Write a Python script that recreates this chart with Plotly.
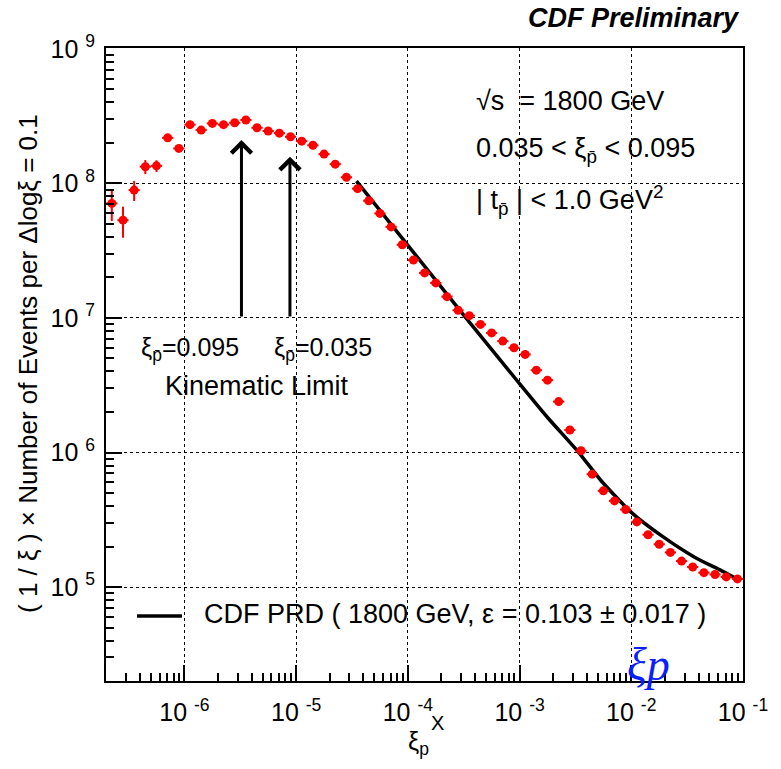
import numpy as np
import plotly.graph_objects as go

# ---------------- data ----------------
# bin centres in log10(xi) (bin width 0.1)
log_xi = [-6.65, -6.55, -6.45, -6.35, -6.25, -6.15, -6.05, -5.95, -5.85, -5.75,
          -5.65, -5.55, -5.45, -5.35, -5.25, -5.15, -5.05, -4.95, -4.85, -4.75,
          -4.65, -4.55, -4.45, -4.35, -4.25, -4.15, -4.05, -3.95, -3.85, -3.75,
          -3.65, -3.55, -3.45, -3.35, -3.25, -3.15, -3.05, -2.95, -2.85, -2.75,
          -2.65, -2.55, -2.45, -2.35, -2.25, -2.15, -2.05, -1.95, -1.85, -1.75,
          -1.65, -1.55, -1.45, -1.35, -1.25, -1.15, -1.05]
events = [7.10e7, 5.33e7, 8.91e7, 1.33e8, 1.35e8, 2.18e8, 1.82e8, 2.73e8, 2.49e8, 2.79e8,
          2.73e8, 2.82e8, 2.96e8, 2.59e8, 2.45e8, 2.36e8, 2.22e8, 2.06e8, 1.92e8, 1.65e8,
          1.39e8, 1.11e8, 9.14e7, 7.43e7, 5.98e7, 4.75e7, 3.50e7, 2.69e7, 2.16e7, 1.82e7,
          1.44e7, 1.14e7, 1.04e7, 8.95e6, 7.74e6, 6.73e6, 6.00e6, 5.36e6, 4.09e6, 3.45e6,
          2.39e6, 1.47e6, 1.03e6, 6.90e5, 5.19e5, 4.37e5, 3.77e5, 3.05e5, 2.45e5, 2.08e5,
          1.81e5, 1.56e5, 1.41e5, 1.28e5, 1.24e5, 1.19e5, 1.15e5]
rel_err = [0.26, 0.26, 0.17, 0.12, 0.10] + [0.03] * 52

# CDF PRD curve
prd_xi = [3.47e-5, 3.16e-4, 9.55e-4, 1.78e-3, 3.39e-3, 5.37e-3, 1.00e-2, 1.86e-2,
          3.72e-2, 6.46e-2, 9.12e-2]
prd_val = [1.04e8, 1.05e7, 3.40e6, 1.82e6, 1.00e6, 6.17e5, 3.59e5, 2.41e5,
           1.66e5, 1.32e5, 1.13e5]

# kinematic limit arrows
arrow_xi = [3.24e-6, 8.8e-6]
arrow_tip = [2.10e8, 1.58e8]
arrow_base = 1.0e7

x_ticks = [1e-6, 1e-5, 1e-4, 1e-3, 1e-2, 1e-1]
x_ticktext = ["10 <sup>-6</sup>", "10 <sup>-5</sup>", "10 <sup>-4</sup>",
              "10 <sup>-3</sup>", "10 <sup>-2</sup>", "10 <sup>-1</sup>"]
y_ticks = [1e5, 1e6, 1e7, 1e8, 1e9]
y_ticktext = ["10 <sup>5</sup>", "10 <sup>6</sup>", "10 <sup>7</sup>",
              "10 <sup>8</sup>", "10 <sup>9</sup>"]

# ---------------- figure ----------------
FONT = "Liberation Sans, Arial, Helvetica, sans-serif"
xi = [10 ** v for v in log_xi]
ex_hi = [x * (10 ** 0.05 - 1) for x in xi]
ex_lo = [x * (1 - 10 ** -0.05) for x in xi]
ey = [v * r for v, r in zip(events, rel_err)]

fig = go.Figure()
fig.add_trace(go.Scatter(
    x=prd_xi, y=prd_val, mode="lines",
    line=dict(color="black", width=3.5, shape="spline", smoothing=0.6),
    showlegend=False, name="CDF PRD"))
fig.add_trace(go.Scatter(
    x=xi, y=events, mode="markers",
    marker=dict(color="#ff0000", size=9, line=dict(width=0)),
    error_y=dict(type="data", array=ey, color="#ff0000", thickness=2, width=0),
    error_x=dict(type="data", array=ex_hi, arrayminus=ex_lo, color="#ff0000", thickness=2, width=0),
    showlegend=False, name="data"))

annotations = []
for ax_, tip in zip(arrow_xi, arrow_tip):
    annotations.append(dict(
        x=np.log10(ax_), y=np.log10(tip), ax=np.log10(ax_), ay=np.log10(arrow_base),
        xref="x", yref="y", axref="x", ayref="y", text="", showarrow=True,
        arrowhead=4, arrowsize=1.3, arrowwidth=3, arrowcolor="black", standoff=0))

L, R, T, B = 106, 38, 48, 88
W, H = 781, 769
PW, PH = W - L - R, H - T - B


def px(xp):
    return (xp - L) / PW


def py(yp):
    return (H - B - yp) / PH


def txt(text, x, y, size=27, xanchor="left", yanchor="middle", **kw):
    d = dict(text=text, x=px(x), y=py(y), xref="paper", yref="paper",
             xanchor=xanchor, yanchor=yanchor, showarrow=False,
             font=dict(family=FONT, size=size, color="black"))
    d.update(kw)
    return d


annotations += [
    txt("<b><i>CDF Preliminary</i></b>", 742, 18, size=27, xanchor="right"),
    txt("√s  = 1800 GeV", 474, 101),
    txt("0.035 < ξ<sub>p̄</sub> < 0.095", 474, 150),
    txt("| t<sub>p̄</sub> | < 1.0 GeV<sup>2</sup>", 474, 200),
    txt("ξ<sub>p̄</sub>=0.095", 139, 349, size=25),
    txt("ξ<sub>p̄</sub>=0.035", 272, 349, size=25),
    txt("Kinematic Limit", 163, 386, size=27),
    txt("CDF PRD ( 1800 GeV, ε = 0.103 ± 0.017 )", 202, 614, size=27),
    txt("X", 437, 723, size=20, xanchor="center"),
    txt("ξ<sub>p</sub>", 418, 743, size=25, xanchor="center"),
    txt("( 1 / ξ ) × Number of Events per Δlogξ = 0.1", 28, 364, size=26,
        xanchor="center", textangle=-90),
    dict(text="<i>ξp</i>", x=px(648), y=py(664), xref="paper", yref="paper",
         xanchor="center", yanchor="middle", showarrow=False,
         font=dict(family="Liberation Serif, DejaVu Serif, serif", size=46, color="#0a1eff")),
]

shapes = [dict(type="line", xref="paper", yref="paper",
               x0=px(137), x1=px(182), y0=py(616), y1=py(616),
               line=dict(color="black", width=3.5))]

minor_x = [k * 10.0 ** e for e in range(-7, -1) for k in range(2, 10)]
minor_y = [k * 10.0 ** e for e in range(4, 9) for k in range(2, 10)]

axis_common = dict(
    type="log", showline=True, linecolor="black", linewidth=2, mirror=True,
    ticks="inside", ticklen=16, tickwidth=1.5, tickcolor="black",
    showgrid=True, gridcolor="black", gridwidth=1, griddash="dot",
    zeroline=False,
    tickfont=dict(family=FONT, size=25, color="black"),
)

fig.update_layout(
    width=W, height=H,
    margin=dict(l=L, r=R, t=T, b=B, pad=0),
    paper_bgcolor="white", plot_bgcolor="white",
    xaxis=dict(axis_common, range=[-6.702, -1.0], tickvals=x_ticks, ticktext=x_ticktext,
               ticklabelstandoff=8,
               minor=dict(tickmode="array", tickvals=minor_x, ticks="inside", ticklen=8,
                          tickwidth=1.5, tickcolor="black", showgrid=False)),
    yaxis=dict(axis_common, range=[4.302, 9.006], tickvals=y_ticks, ticktext=y_ticktext,
               ticklabelstandoff=4,
               minor=dict(tickmode="array", tickvals=minor_y, ticks="inside", ticklen=8,
                          tickwidth=1.5, tickcolor="black", showgrid=False)),
    annotations=annotations, shapes=shapes,
    showlegend=False,
)

fig.write_html("out.html")
